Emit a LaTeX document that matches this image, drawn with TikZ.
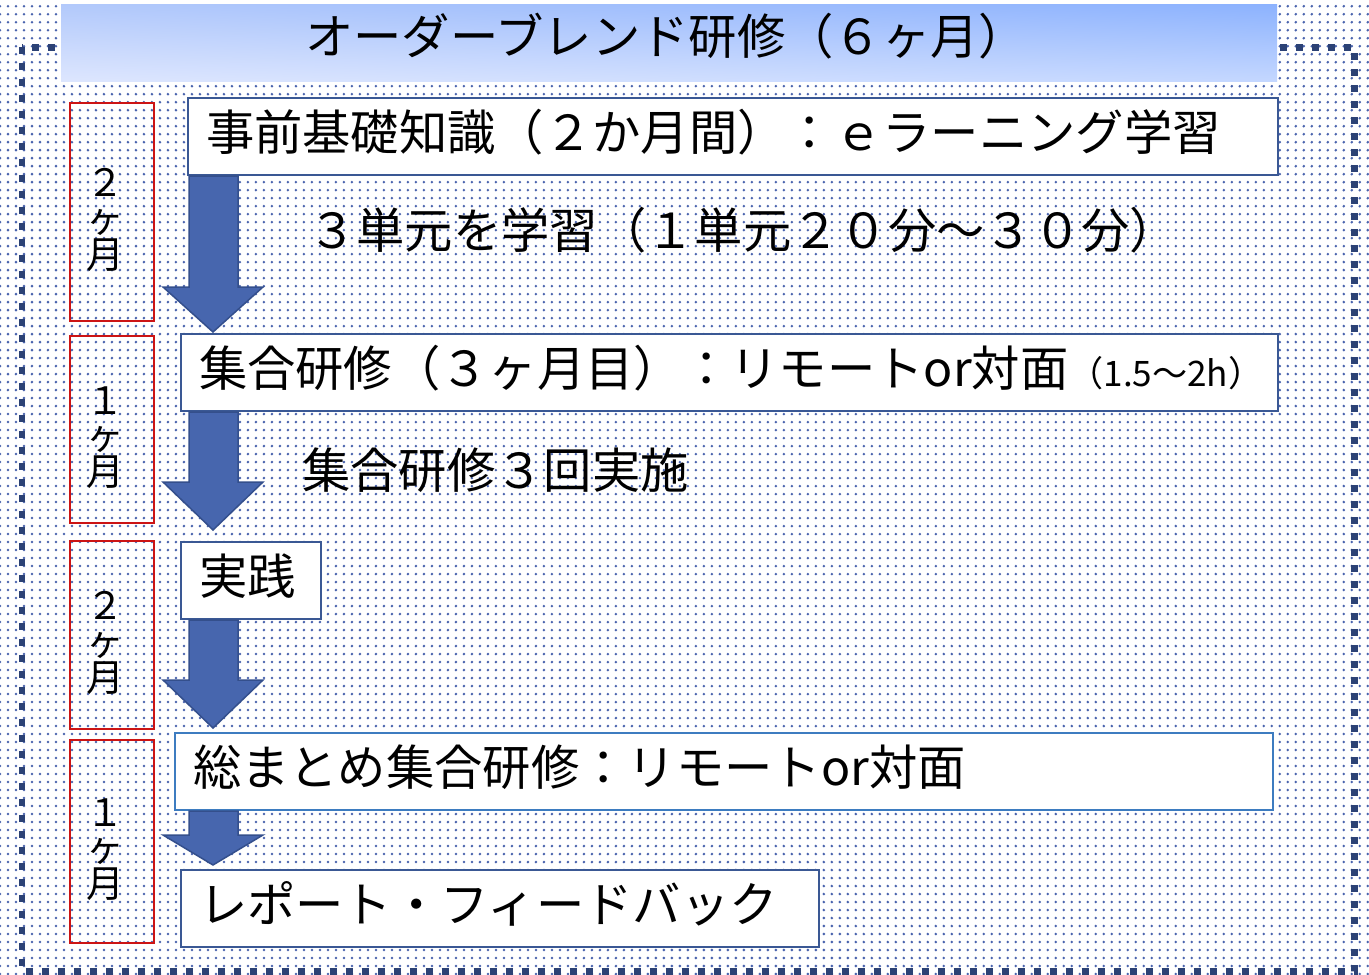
\documentclass[tikz,border=0pt]{standalone}
\usepackage{fontspec}
\setmainfont{Noto Sans CJK JP}
\usetikzlibrary{patterns.meta,calc,shadings}
\newdimen\px \px=0.02cm
\definecolor{dotblue}{HTML}{4A64AE}
\definecolor{framenavy}{HTML}{2C4275}
\definecolor{stepblue}{HTML}{3A5894}
\definecolor{lightstep}{HTML}{3D7CC0}
\definecolor{monthred}{HTML}{CC1414}
\definecolor{arrowfill}{HTML}{4766AE}
\definecolor{arrowedge}{HTML}{344F8C}
\definecolor{barUL}{HTML}{B2C9FB}
\definecolor{barUR}{HTML}{8CB2FE}
\definecolor{barLL}{HTML}{DDE6FE}
\definecolor{barLR}{HTML}{C4D7FF}
\newcommand\bigfont{\fontsize{27.5}{30}\selectfont}
\newcommand\monthfont{\fontsize{21.5}{20.4}\selectfont}
\newcommand\smallfont{\fontsize{20}{22}\selectfont}
\tikzset{
  stepbox/.style={draw=stepblue, line width=2\px, fill=white, anchor=north west,
    inner xsep=18\px, inner ysep=0pt, minimum height=77\px, text width=#1,
    text height=43\px, text depth=16\px, align=left, font=\bigfont},
  monthbox/.style={draw=monthred, line width=2\px, minimum width=84\px},
  monthtext/.style={align=center, font=\monthfont, yshift=-8\px, xshift=-7\px},
  blockarrow/.style={fill=arrowfill, draw=arrowedge, line width=1.5\px},
  note/.style={anchor=west, inner sep=0pt, font=\bigfont},
}
\begin{document}
\begin{tikzpicture}[x=0.02cm, y=-0.02cm]
\useasboundingbox (0,0) rectangle (1369,974);
% dotted paper
\fill[white] (0,0) rectangle (1369,974);
\fill[pattern={Dots[distance=0.16cm, radius=0.028cm]}, pattern color=dotblue] (0,0) rectangle (1369,974);
% outer frame
\draw[framenavy, line width=0.14cm, dash pattern=on 0.14cm off 0.18cm] (22,47) rectangle (1354,971);
% title bar
\node[inner sep=0pt, minimum width=1216\px, minimum height=77\px,
  upper left=barUL, upper right=barUR, lower left=barLL, lower right=barLR] (bar) at (669,42.5) {};
\node[font=\bigfont, inner sep=0pt] (title) at (666,36) {オーダーブレンド研修（６ヶ月）};
% months
\node[monthbox, minimum height=218\px, label={[monthtext]center:２\\ヶ\\月}] (m1) at (112,212) {};
\node[monthbox, minimum height=187\px, label={[monthtext]center:１\\ヶ\\月}] (m2) at (112,429.5) {};
\node[monthbox, minimum height=188\px, label={[monthtext]center:２\\ヶ\\月}] (m3) at (112,635) {};
\node[monthbox, minimum height=203\px, label={[monthtext]center:１\\ヶ\\月}] (m4) at (112,841.5) {};
% steps
\node[stepbox=1054\px] (pre) at (187,97) {事前基礎知識（２か月間）：ｅラーニング学習};
\node[stepbox=1061\px] (group) at (180,333) {集合研修（３ヶ月目）：リモートor対面{\smallfont（1.5～2h）}};
\node[stepbox=104\px] (practice) at (180,541) {実践};
\node[stepbox=1062\px, draw=lightstep] (summary) at (174,732) {総まとめ集合研修：リモートor対面};
\node[stepbox=602\px] (report) at (180,869) {レポート・フィードバック};
% arrows between steps
\foreach \a/\b/\h/\g in {pre/group/45/1, group/practice/48/11, practice/summary/48/4, summary/report/30/4}
  \draw[blockarrow] (189,0 |- \a.south) -- ($(189,0 |- \b.north)+(0,-\h-\g)$)
    -- ($(163,0 |- \b.north)+(0,-\h-\g)$) -- ($(213,0 |- \b.north)+(0,-\g)$)
    -- ($(263,0 |- \b.north)+(0,-\h-\g)$) -- ($(238,0 |- \b.north)+(0,-\h-\g)$)
    -- (238,0 |- \a.south) -- cycle;
% notes
\node[note] (units) at (308,230) {３単元を学習（１単元２０分～３０分）};
\node[note] (thrice) at (302,470) {集合研修３回実施};
\end{tikzpicture}
\end{document}
